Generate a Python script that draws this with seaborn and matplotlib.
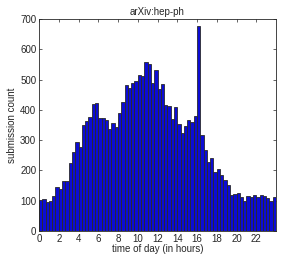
import numpy as np
import pandas as pd
import matplotlib
matplotlib.use("Agg")
import matplotlib.pyplot as plt
import seaborn as sns

# 20-minute bins over the day (bin start, in hours)
bin_start = np.arange(0, 24, 1 / 3)
counts = [102, 106, 95, 99, 115, 145, 139, 165, 165, 224, 261, 293, 276, 350, 364, 377, 420,
          421, 374, 374, 365, 336, 356, 342, 390, 426, 481, 471, 489, 496, 516, 511, 557, 550,
          490, 530, 469, 486, 415, 412, 370, 410, 352, 323, 345, 366, 360, 379, 677,
          316, 267, 228, 240, 195, 206, 186, 168, 153,
          117, 122, 125, 112, 99, 115, 112, 118, 112, 117, 116, 108, 99, 113]
x_ticks = list(range(0, 24, 2))
y_ticks = list(range(0, 701, 100))

df = pd.DataFrame({"hour": bin_start + 1 / 6, "count": counts})

sns.set_style("ticks")
plt.rcParams['font.family'] = ['Liberation Sans', 'DejaVu Sans']
plt.rcParams['font.size'] = 7

fig = plt.figure(figsize=(3.05, 2.6), dpi=100)
ax = fig.add_axes([0.128, 0.112, 0.777, 0.815])
sns.histplot(data=df, x="hour", weights="count", binwidth=1 / 3, binrange=(0, 24),
             color="#0c0cd4", edgecolor="#2a2a2a", linewidth=0.6, alpha=1, ax=ax)

ax.set_xlim(0, 24)
ax.set_ylim(0, 700)
ax.set_xticks(x_ticks)
ax.set_yticks(y_ticks)
ax.tick_params(direction="in", top=True, right=True, length=2.5, width=0.5, labelsize=7, pad=2)
for s in ax.spines.values():
    s.set_linewidth(0.6)
ax.set_xlabel("time of day (in hours)", fontsize=7, labelpad=0)
ax.set_ylabel("submission count", fontsize=7, labelpad=2)
ax.set_title("arXiv:hep-ph", fontsize=7, pad=3)

fig.savefig("out.png", dpi=100)
